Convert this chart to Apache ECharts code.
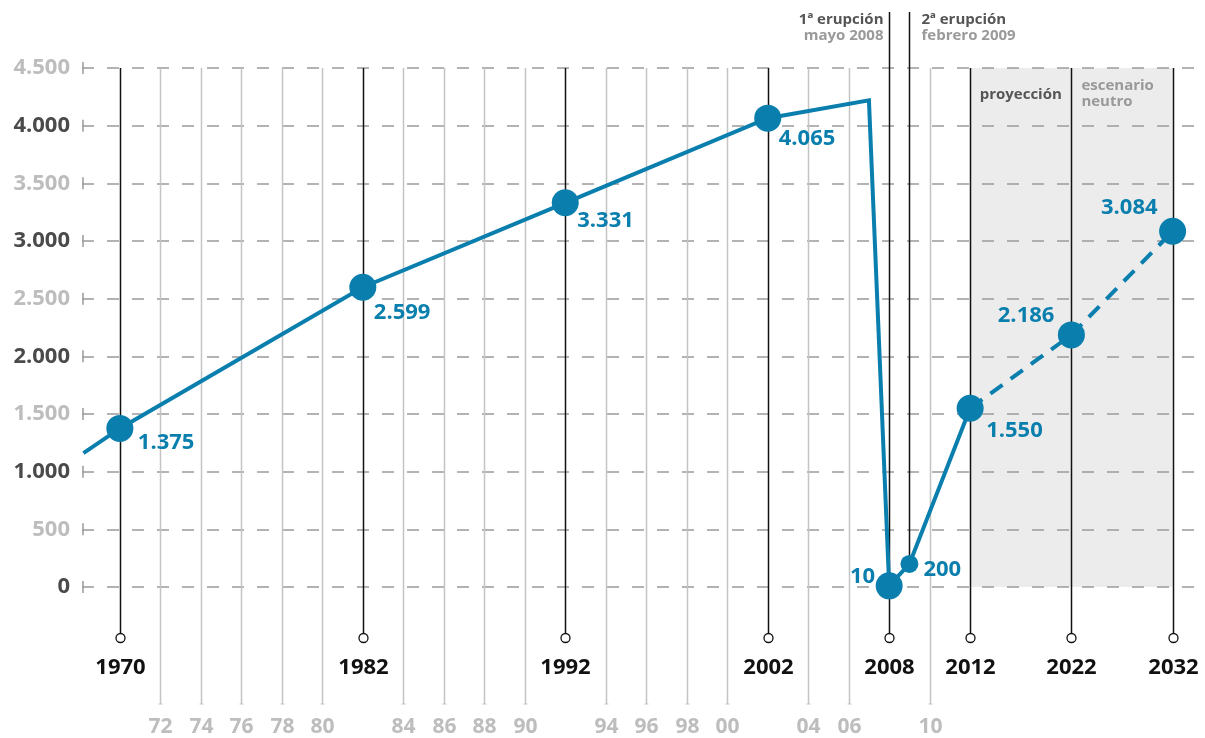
<!DOCTYPE html>
<html>
<head>
<meta charset="utf-8">
<script src="https://cdn.jsdelivr.net/npm/echarts@6/dist/echarts.min.js"></script>
<style>
  html, body { margin: 0; padding: 0; background: #fff; }
  #chart { width: 1205px; height: 738px; }
</style>
</head>
<body>
<div id="chart"></div>
<script>
// datos
const traceYears = [1968.2, 1970, 1982, 1992, 2002, 2007, 2008, 2009, 2012]
const traceValues = [1160, 1375, 2599, 3331, 4065, 4220, 10, 200, 1550]
const projYears = [2012, 2022, 2032]
const projValues = [1550, 2186, 3084]
const pointYears = [1970, 1982, 1992, 2002, 2008, 2009, 2012, 2022, 2032]
const pointValues = [1375, 2599, 3331, 4065, 10, 200, 1550, 2186, 3084]
const majorYears = [1970, 1982, 1992, 2002, 2008, 2012, 2022, 2032]
const minorYears = [1972, 1974, 1976, 1978, 1980, 1984, 1986, 1988, 1990,
  1994, 1996, 1998, 2000, 2004, 2006, 2010]
const eruptionYears = [2008, 2009]
const eruptionTitles = ['1ª erupción', '2ª erupción']
const eruptionDates = ['mayo 2008', 'febrero 2009']
const yTicks = [0, 500, 1000, 1500, 2000, 2500, 3000, 3500, 4000, 4500]

const BLUE = '#0a7fae'
const FONT = '"Open Sans", "Noto Sans", sans-serif'

// a partir de 2012 la escala va a la mitad
const pos = y => (y <= 2012 ? y : 2012 + (y - 2012) / 2)
const fmt = v => String(v).replace(/\B(?=(\d{3})+(?!\d))/g, '.')

const X_MIN = 1968.13
const X_MAX = 2023.6

// colocacion de etiquetas (estilo)
const labelPlace = {
  1970: ['left', [18, 14]],
  1982: ['left', [11, 25]],
  1992: ['left', [12, 18]],
  2002: ['left', [11, 21]],
  2008: ['right', [-14, -9]],
  2009: ['left', [14, 6]],
  2012: ['left', [16, 23]],
  2022: ['right', [-17, -19]],
  2032: ['right', [-15, -24]]
}

const chart = echarts.init(document.getElementById('chart'))

const option = {
  animation: false,
  grid: { left: 82, right: 0, top: 68, bottom: 151 },
  xAxis: {
    type: 'value',
    min: X_MIN,
    max: X_MAX,
    show: false
  },
  yAxis: {
    type: 'value',
    min: 0,
    max: 4500,
    interval: 500,
    z: 2,
    axisLine: { show: false },
    axisTick: { show: false },
    axisLabel: {
      margin: 12,
      fontFamily: FONT,
      fontSize: 22,
      fontWeight: 'bold',
      formatter: v => fmt(v),
      color: v => (v % 1000 === 0 ? '#4a4a4a' : '#bdbdbd')
    },
    splitLine: {
      lineStyle: { color: '#9a9a9a', width: 1.5, type: [12, 13] }
    }
  },
  series: [
    // zona sombreada de proyección
    {
      type: 'line',
      z: 1,
      data: [],
      markArea: {
        silent: true,
        itemStyle: { color: '#ececec' },
        label: {
          fontFamily: FONT,
          fontSize: 15,
          fontWeight: 'bold'
        },
        data: [
          [
            { xAxis: pos(2012), yAxis: 0, name: 'proyección',
              label: { position: 'insideTop', distance: 19, color: '#555' } },
            { xAxis: pos(2022), yAxis: 4500 }
          ],
          [
            { xAxis: pos(2022), yAxis: 0, name: 'escenario\nneutro',
              label: { position: 'insideTopLeft', distance: 10, color: '#999', lineHeight: 16, align: 'left' } },
            { xAxis: pos(2032), yAxis: 4500 }
          ]
        ]
      }
    },
    // marcas del eje y
    {
      type: 'custom',
      z: 3,
      clip: false,
      silent: true,
      data: yTicks.map(v => [X_MIN, v]),
      renderItem: (params, api) => {
        const p = api.coord([api.value(0), api.value(1)])
        return {
          type: 'line',
          shape: { x1: p[0] + 1, y1: p[1] - 6, x2: p[0] + 1, y2: p[1] + 6 },
          style: { stroke: '#9a9a9a', lineWidth: 1.5 }
        }
      }
    },
    // años secundarios
    {
      type: 'custom',
      z: 3,
      clip: false,
      silent: true,
      data: minorYears.map(y => [pos(y), y]),
      renderItem: (params, api) => {
        const x = Math.round(api.coord([api.value(0), 4500])[0]) + 0.5
        const top = api.coord([api.value(0), 4500])[1]
        return {
          type: 'group',
          children: [
            { type: 'line', shape: { x1: x, y1: top, x2: x, y2: 704 },
              style: { stroke: '#c4c4c4', lineWidth: 1.5 } },
            { type: 'line', shape: { x1: x - 2, y1: 704, x2: x + 2, y2: 704 },
              style: { stroke: '#c4c4c4', lineWidth: 1 } },
            { type: 'text', x: x, y: 727,
              style: { text: String(api.value(1)).slice(2), fill: '#bdbdbd',
                font: 'bold 21px ' + FONT, align: 'center', verticalAlign: 'middle' } }
          ]
        }
      }
    },
    // años principales
    {
      type: 'custom',
      z: 3,
      clip: false,
      silent: true,
      data: majorYears.map(y => [pos(y), y]),
      renderItem: (params, api) => {
        const x = Math.round(api.coord([api.value(0), 4500])[0]) + 0.5
        const yr = api.value(1)
        const top = yr === 2008 ? 12 : api.coord([api.value(0), 4500])[1]
        return {
          type: 'group',
          children: [
            { type: 'line', shape: { x1: x, y1: top, x2: x, y2: 633 },
              style: { stroke: '#111', lineWidth: 1.5 } },
            { type: 'circle', shape: { cx: x, cy: 638, r: 4.5 },
              style: { fill: '#fff', stroke: '#111', lineWidth: 1.3 } },
            { type: 'text', x: x, y: 668,
              style: { text: String(yr), fill: '#111',
                font: 'bold 22px ' + FONT, align: 'center', verticalAlign: 'middle' } }
          ]
        }
      }
    },
    // erupciones
    {
      type: 'custom',
      z: 3,
      clip: false,
      silent: true,
      data: eruptionYears.map((y, i) => [pos(y), i]),
      renderItem: (params, api) => {
        const i = api.value(1)
        const x = Math.round(api.coord([api.value(0), 0])[0]) + 0.5
        const left = i === 0
        const tx = left ? x - 6 : x + 12
        const align = left ? 'right' : 'left'
        const children = [
          { type: 'text', x: tx, y: 20,
            style: { text: eruptionTitles[i], fill: '#555',
              font: 'bold 15px ' + FONT, align: align, verticalAlign: 'middle' } },
          { type: 'text', x: tx, y: 36,
            style: { text: eruptionDates[i], fill: '#9a9a9a',
              font: 'bold 15px ' + FONT, align: align, verticalAlign: 'middle' } }
        ]
        if (!left) {
          const bottom = api.coord([api.value(0), pointValues[pointYears.indexOf(2009)]])[1]
          children.push({ type: 'line', shape: { x1: x, y1: 12, x2: x, y2: bottom },
            style: { stroke: '#111', lineWidth: 1.5 } })
        }
        return { type: 'group', children: children }
      }
    },
    // linea histórica
    {
      type: 'line',
      z: 4,
      showSymbol: false,
      silent: true,
      data: traceYears.map((y, i) => [pos(y), traceValues[i]]),
      lineStyle: { color: BLUE, width: 4, join: 'miter' }
    },
    // proyección
    {
      type: 'line',
      z: 4,
      showSymbol: false,
      silent: true,
      data: projYears.map((y, i) => [pos(y), projValues[i]]),
      lineStyle: { color: BLUE, width: 4, type: [15, 10] }
    },
    // puntos con etiquetas
    {
      type: 'scatter',
      z: 5,
      silent: true,
      data: pointYears.map((y, i) => {
        const lp = labelPlace[y]
        return {
          value: [pos(y), pointValues[i]],
          symbolSize: y === 2009 ? 18 : 27,
          label: {
            show: true,
            position: 'inside',
            align: lp[0],
            verticalAlign: 'middle',
            offset: lp[1],
            formatter: fmt(pointValues[i]),
            color: BLUE,
            fontFamily: FONT,
            fontSize: 22,
            fontWeight: 'bold'
          }
        }
      }),
      itemStyle: { color: BLUE, opacity: 1 }
    }
  ]
}

chart.setOption(option)
</script>
</body>
</html>
